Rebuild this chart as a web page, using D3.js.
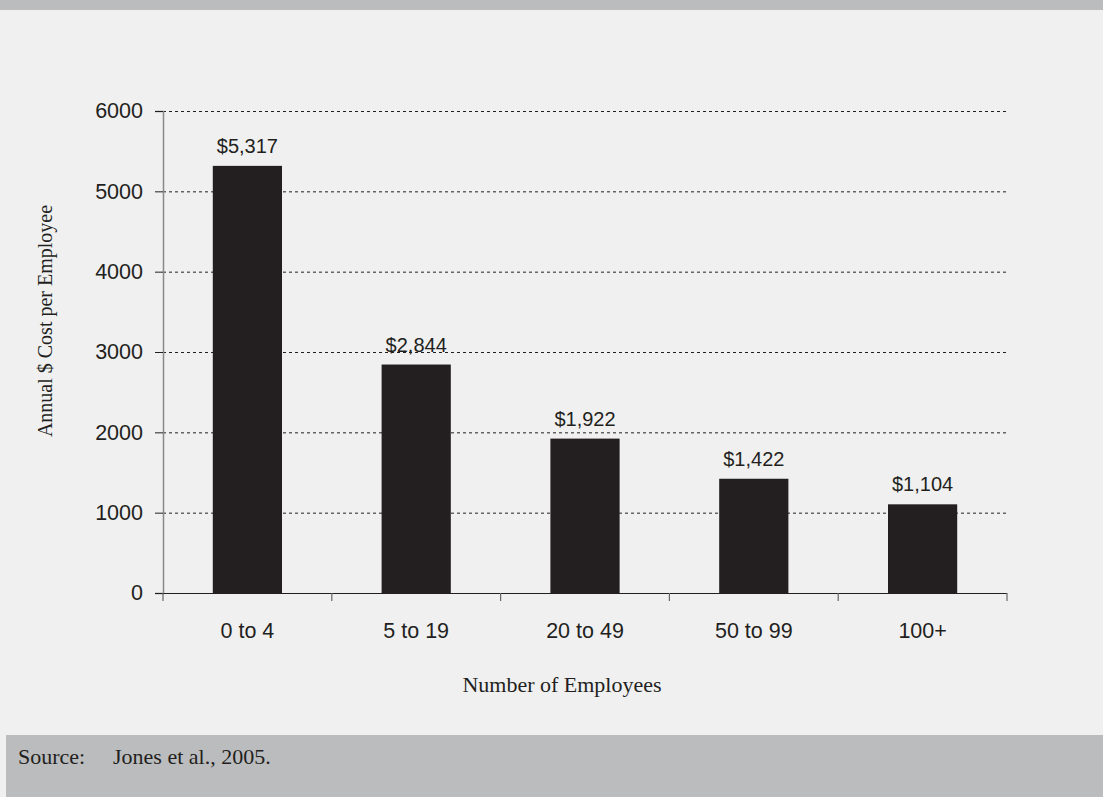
<!DOCTYPE html>
<html>
<head>
<meta charset="utf-8">
<script src="https://cdn.jsdelivr.net/npm/d3@7"></script>
<style>
  body { margin: 0; padding: 0; background: #f0f0f0; }
  svg { display: block; }
</style>
</head>
<body>
<div id="chart"></div>
<script>
// data
let categories = ["0 to 4", "5 to 19", "20 to 49", "50 to 99", "100+"];
let costs = [5317, 2844, 1922, 1422, 1104];
let costLabels = ["$5,317", "$2,844", "$1,922", "$1,422", "$1,104"];
let yTicks = [0, 1000, 2000, 3000, 4000, 5000, 6000];

let W = 1103, H = 797;
let plotLeft = 163, plotRight = 1007, plotTop = 111, plotBottom = 593;
let ink = "#231f20";
let sans = "Liberation Sans, Arial, sans-serif";
let serif = "Liberation Serif, Times New Roman, serif";

let svg = d3.select("#chart").append("svg")
    .attr("width", W)
    .attr("height", H);

// background + bands
svg.append("rect").attr("width", W).attr("height", H).attr("fill", "#f0f0f0");
svg.append("rect").attr("x", 0).attr("y", 0).attr("width", W).attr("height", 10).attr("fill", "#bbbcbe");
svg.append("rect").attr("x", 6).attr("y", 735).attr("width", W - 6).attr("height", H - 735).attr("fill", "#bbbcbe");

let x = d3.scaleBand().domain(categories).range([plotLeft, plotRight]).paddingInner(0.59).paddingOuter(0.295);
let y = d3.scaleLinear().domain([0, 6000]).range([plotBottom, plotTop]);

// gridlines
svg.append("g")
  .selectAll("line")
  .data(yTicks.filter(d => d > 0))
  .enter().append("line")
    .attr("x1", plotLeft).attr("x2", plotRight)
    .attr("y1", d => y(d) + 0.5).attr("y2", d => y(d) + 0.5)
    .attr("stroke", ink)
    .attr("stroke-width", 1)
    .attr("stroke-dasharray", "3,3");

// bars
svg.append("g")
  .selectAll("rect")
  .data(costs)
  .enter().append("rect")
    .attr("x", (d, i) => x(categories[i]))
    .attr("y", d => y(d))
    .attr("width", x.bandwidth())
    .attr("height", d => plotBottom - y(d))
    .attr("fill", ink);

// value labels
svg.append("g")
  .selectAll("text")
  .data(costLabels)
  .enter().append("text")
    .attr("x", (d, i) => x(categories[i]) + x.bandwidth() / 2)
    .attr("y", (d, i) => y(costs[i]) - 13)
    .attr("text-anchor", "middle")
    .attr("font-family", sans)
    .attr("font-size", 20)
    .attr("fill", ink)
    .text(d => d);

// y axis
let yAxis = svg.append("g")
    .attr("transform", "translate(" + plotLeft + ",0)")
    .call(d3.axisLeft(y).tickValues(yTicks).tickSize(8).tickPadding(12).tickFormat(d3.format("d")));
yAxis.select(".domain").attr("stroke", "#888").attr("stroke-width", 1.5);
yAxis.selectAll(".tick line").attr("stroke", ink);
yAxis.selectAll(".tick text")
    .attr("font-family", sans)
    .attr("font-size", 21.5)
    .attr("fill", ink);

// x axis
let xTickPos = d3.range(categories.length + 1).map(i => plotLeft + i * (plotRight - plotLeft) / categories.length);
svg.append("line")
    .attr("x1", plotLeft).attr("x2", plotRight)
    .attr("y1", plotBottom + 0.5).attr("y2", plotBottom + 0.5)
    .attr("stroke", ink).attr("stroke-width", 1.2);
svg.append("g")
  .selectAll("line")
  .data(xTickPos)
  .enter().append("line")
    .attr("x1", d => d).attr("x2", d => d)
    .attr("y1", plotBottom).attr("y2", plotBottom + 8)
    .attr("stroke", "#666").attr("stroke-width", 1.2);

svg.append("g")
  .selectAll("text")
  .data(categories)
  .enter().append("text")
    .attr("x", d => x(d) + x.bandwidth() / 2)
    .attr("y", 638)
    .attr("text-anchor", "middle")
    .attr("font-family", sans)
    .attr("font-size", 21.5)
    .attr("fill", ink)
    .text(d => d);

// axis titles
svg.append("text")
    .attr("x", 562).attr("y", 692)
    .attr("text-anchor", "middle")
    .attr("font-family", serif)
    .attr("font-size", 22)
    .attr("fill", ink)
    .text("Number of Employees");

svg.append("text")
    .attr("transform", "translate(52,321) rotate(-90)")
    .attr("text-anchor", "middle")
    .attr("font-family", serif)
    .attr("font-size", 20)
    .attr("fill", ink)
    .text("Annual $ Cost per Employee");

// source
svg.append("text")
    .attr("x", 18).attr("y", 764)
    .attr("font-family", serif)
    .attr("font-size", 22)
    .attr("fill", ink)
    .text("Source:");
svg.append("text")
    .attr("x", 113).attr("y", 764)
    .attr("font-family", serif)
    .attr("font-size", 22)
    .attr("fill", ink)
    .text("Jones et al., 2005.");
</script>
</body>
</html>
